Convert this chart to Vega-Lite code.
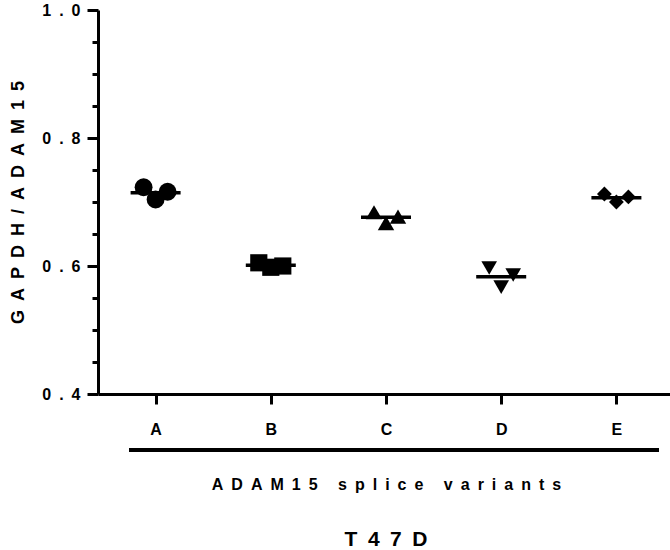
{
  "$schema": "https://vega.github.io/schema/vega-lite/v6.json",
  "width": 576,
  "height": 384,
  "autosize": "none",
  "padding": {"left": 98, "top": 10, "right": 0, "bottom": 156},
  "background": "white",
  "title": {
    "text": "T\u20024\u20027\u2002D",
    "orient": "bottom",
    "anchor": "middle",
    "font": "Liberation Sans",
    "fontWeight": "bold",
    "fontSize": 21,
    "color": "black",
    "offset": 37
  },
  "config": {
    "view": {"stroke": null},
    "axis": {
      "domainColor": "black",
      "tickColor": "black",
      "labelColor": "black",
      "titleColor": "black",
      "labelFont": "Liberation Sans",
      "titleFont": "Liberation Sans",
      "labelFontWeight": "bold",
      "titleFontWeight": "bold",
      "grid": false,
      "domainWidth": 3,
      "tickWidth": 3
    }
  },
  "data": {
    "values": [
      {"variant": "A", "rep": 1, "ratio": 0.723},
      {"variant": "A", "rep": 2, "ratio": 0.704},
      {"variant": "A", "rep": 3, "ratio": 0.716},
      {"variant": "B", "rep": 1, "ratio": 0.605},
      {"variant": "B", "rep": 2, "ratio": 0.598},
      {"variant": "B", "rep": 3, "ratio": 0.600},
      {"variant": "C", "rep": 1, "ratio": 0.684},
      {"variant": "C", "rep": 2, "ratio": 0.667},
      {"variant": "C", "rep": 3, "ratio": 0.677},
      {"variant": "D", "rep": 1, "ratio": 0.597},
      {"variant": "D", "rep": 2, "ratio": 0.567},
      {"variant": "D", "rep": 3, "ratio": 0.586},
      {"variant": "E", "rep": 1, "ratio": 0.7125},
      {"variant": "E", "rep": 2, "ratio": 0.700},
      {"variant": "E", "rep": 3, "ratio": 0.708}
    ]
  },
  "encoding": {
    "x": {
      "field": "variant",
      "type": "nominal",
      "scale": {"type": "point", "padding": 0.5, "domain": ["A", "B", "C", "D", "E"]},
      "axis": {
        "title": "A\u2002D\u2002A\u2002M\u20021\u20025\u2002 \u2002s\u2002p\u2002l\u2002i\u2002c\u2002e\u2002 \u2002v\u2002a\u2002r\u2002i\u2002a\u2002n\u2002t\u2002s",
        "labelAngle": 0,
        "labelFontSize": 16,
        "labelPadding": 17,
        "labelDx": -4,
        "tickSize": 10,
        "titleFontSize": 16,
        "titlePadding": 39
      }
    }
  },
  "layer": [
    {
      "mark": {"type": "point", "filled": true, "opacity": 1, "color": "black"},
      "encoding": {
        "y": {
          "field": "ratio",
          "type": "quantitative",
          "scale": {"domain": [0.4, 1.0], "zero": false, "nice": false},
          "axis": {
            "title": "G\u2002A\u2002P\u2002D\u2002H\u2002/\u2002A\u2002D\u2002A\u2002M\u20021\u20025",
            "values": [0.4, 0.45, 0.5, 0.55, 0.6, 0.65, 0.7, 0.75, 0.8, 0.85, 0.9, 0.95, 1.0],
            "tickCount": 13,
            "labelExpr": "round(datum.value*100) % 20 == 0 ? join(split(format(datum.value, '.1f'), ''), '\u2002') : ''",
            "labelFontSize": 16,
            "labelPadding": 7,
            "tickSize": {"condition": {"test": "round(datum.value*100) % 20 == 0", "value": 11}, "value": 6},
            "titleFontSize": 18,
            "titlePadding": 14
          }
        },
        "xOffset": {"field": "rep", "type": "ordinal", "scale": {"type": "point", "range": [-12, 12], "padding": 0}},
        "shape": {
          "field": "variant",
          "type": "nominal",
          "scale": {"domain": ["A", "B", "C", "D", "E"], "range": ["circle", "square", "triangle-up", "triangle-down", "diamond"]},
          "legend": null
        },
        "size": {
          "field": "variant",
          "type": "nominal",
          "scale": {"domain": ["A", "B", "C", "D", "E"], "range": [320, 220, 260, 260, 200]},
          "legend": null
        }
      }
    },
    {
      "mark": {"type": "tick", "color": "black", "size": 50, "thickness": 3.5, "opacity": 1},
      "encoding": {
        "y": {"aggregate": "mean", "field": "ratio", "type": "quantitative"}
      }
    },
    {
      "mark": {"type": "rule", "color": "black", "strokeWidth": 4, "xOffset": -26, "x2Offset": 42},
      "encoding": {
        "x": {"datum": "A"},
        "x2": {"datum": "E"},
        "y": {"datum": 0.3125}
      }
    }
  ]
}
